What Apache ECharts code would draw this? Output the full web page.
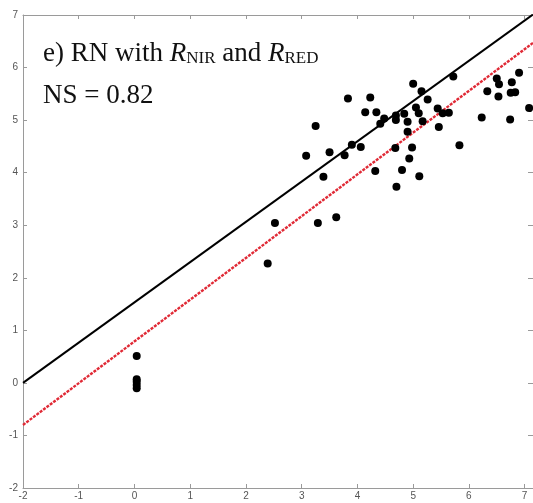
<!DOCTYPE html>
<html>
<head>
<meta charset="utf-8">
<script src="https://cdn.jsdelivr.net/npm/echarts@6/dist/echarts.min.js"></script>
<style>
  html, body { margin: 0; padding: 0; background: #fff; }
  #chart { width: 533px; height: 503px; }
</style>
</head>
<body>
<div id="chart"></div>
<script>
// Simulated (x) vs. observed (y) net radiation values
const simX = [0.04, 0.04, 0.04, 0.04, 0.04,
  2.39, 2.52, 3.29, 3.62,
  3.08, 3.50, 3.77, 3.90, 4.06, 3.39, 4.32, 3.25,
  3.83, 4.23, 4.14, 4.34, 4.48, 4.41,
  4.69, 4.69, 4.84, 4.90, 5.00, 5.15, 5.26, 5.05, 5.10, 5.17, 5.44, 5.53, 5.64, 5.46, 5.72,
  4.90, 4.68, 4.98, 5.83, 4.93, 4.80, 5.11, 4.70,
  6.23, 6.33, 6.50, 6.54, 6.53, 6.77, 6.75, 6.83, 6.90, 6.74, 7.08];
const obsY = [0.51, 0.07, 0.02, -0.04, -0.10,
  2.27, 3.04, 3.04, 3.15,
  4.32, 4.39, 4.33, 4.53, 4.49, 3.92, 4.03, 4.89,
  5.41, 5.43, 5.15, 5.15, 5.03, 4.93,
  5.09, 5.00, 5.12, 4.97, 5.69, 5.55, 5.39, 5.24, 5.13, 4.98, 5.22, 5.13, 5.14, 4.87, 5.83,
  4.78, 4.47, 4.48, 4.52, 4.27, 4.05, 3.93, 3.73,
  5.05, 5.55, 5.79, 5.68, 5.45, 5.72, 5.52, 5.53, 5.90, 5.01, 5.23];

// Reference lines, given by their end points
const lineX = [-2, 7.15];
const blackLineY = [0, 7.01];
const redLineY = [-0.80, 6.47];

const axisMin = -2;
const xMax = 7.15;
const yMax = 7;

const points = simX.map((x, i) => [x, obsY[i]]);
const pair = (ys) => lineX.map((x, i) => [x, ys[i]]);

const axisColor = '#9a9a9a';
const labelStyle = { color: '#555', fontSize: 10, fontFamily: 'Liberation Sans, Arial, sans-serif' };
const intOnly = (v) => (Math.abs(v - Math.round(v)) < 1e-6 ? String(Math.round(v)) : '');

const chart = echarts.init(document.getElementById('chart'), null, { renderer: 'canvas' });
chart.setOption({
  animation: false,
  backgroundColor: '#fff',
  grid: { left: 23, top: 15, width: 511, height: 473, containLabel: false },
  xAxis: [
    {
      type: 'value', min: axisMin, max: xMax, interval: 1, position: 'bottom',
      axisLine: { show: true, onZero: false, lineStyle: { color: axisColor, width: 1 } },
      axisTick: { show: true, inside: true, length: 4, lineStyle: { color: axisColor } },
      axisLabel: Object.assign({ margin: 3, formatter: intOnly, showMaxLabel: false }, labelStyle),
      splitLine: { show: false }
    },
    {
      type: 'value', min: axisMin, max: xMax, interval: 1, position: 'top',
      axisLine: { show: true, onZero: false, lineStyle: { color: axisColor, width: 1 } },
      axisTick: { show: true, inside: true, length: 4, lineStyle: { color: axisColor } },
      axisLabel: { show: false },
      splitLine: { show: false }
    }
  ],
  yAxis: [
    {
      type: 'value', min: axisMin, max: yMax, interval: 1, position: 'left',
      axisLine: { show: true, onZero: false, lineStyle: { color: axisColor, width: 1 } },
      axisTick: { show: true, inside: true, length: 4, lineStyle: { color: axisColor } },
      axisLabel: Object.assign({ margin: 5 }, labelStyle),
      splitLine: { show: false }
    },
    {
      type: 'value', min: axisMin, max: yMax, interval: 1, position: 'right',
      axisLine: { show: true, onZero: false, lineStyle: { color: axisColor, width: 1 } },
      axisTick: { show: true, inside: true, length: 5, lineStyle: { color: axisColor } },
      axisLabel: { show: false },
      splitLine: { show: false }
    }
  ],
  series: [
    {
      type: 'line', data: pair(redLineY), symbol: 'none', z: 2,
      lineStyle: { color: '#e02a36', width: 2.4, type: [3, 1.2] }
    },
    {
      type: 'line', data: pair(blackLineY), symbol: 'none', z: 3,
      lineStyle: { color: '#000', width: 2 }
    },
    {
      type: 'scatter', data: points, symbol: 'circle', symbolSize: 8, z: 4, clip: false,
      itemStyle: { color: '#000', opacity: 1 }
    }
  ],
  graphic: [
    {
      type: 'text', left: 43, top: 40, z: 10,
      style: {
        text: 'e) RN with {i|R}{s|NIR} and {i|R}{s|RED}',
        font: '27px "Liberation Serif", "Times New Roman", serif',
        fill: '#111',
        rich: {
          i: { fontStyle: 'italic', fontSize: 27, fontFamily: 'Liberation Serif', verticalAlign: 'bottom' },
          s: { fontSize: 17, fontFamily: 'Liberation Serif', verticalAlign: 'bottom' }
        }
      }
    },
    {
      type: 'text', left: 43, top: 82, z: 10,
      style: {
        text: 'NS = 0.82',
        font: '27px "Liberation Serif", "Times New Roman", serif',
        fill: '#111'
      }
    }
  ]
});
</script>
</body>
</html>
